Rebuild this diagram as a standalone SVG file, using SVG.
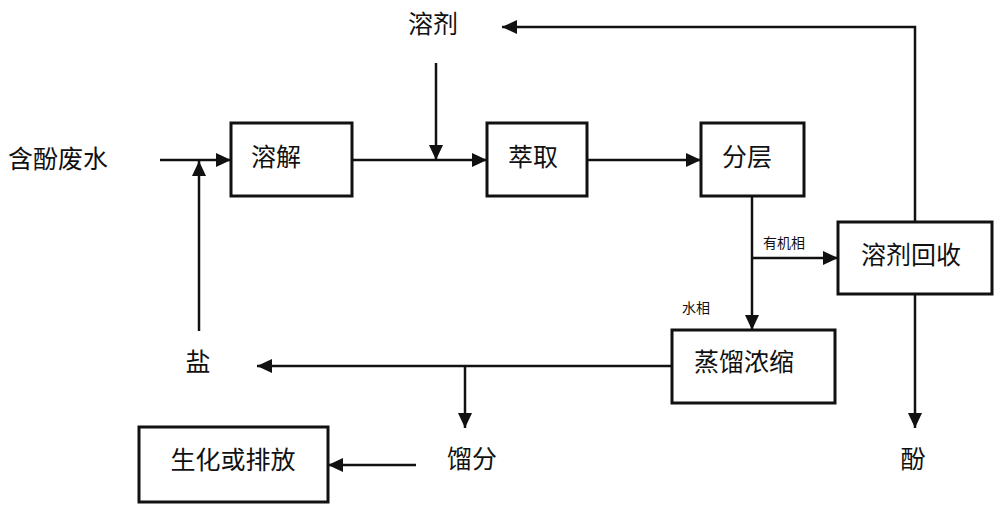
<svg xmlns="http://www.w3.org/2000/svg" width="1000" height="510" viewBox="0 0 1000 510">
<defs>
<marker id="ah" markerUnits="userSpaceOnUse" markerWidth="16" markerHeight="14" refX="15" refY="7" orient="auto">
<path d="M0,0 L15,7 L0,14 z" fill="#111"/>
</marker>
<style>
.box{fill:#fff;stroke:#111;stroke-width:3}
.t{font-family:"Noto Sans CJK SC","Noto Sans",sans-serif;font-size:25px;fill:#111;dominant-baseline:central;text-anchor:middle}
.s{font-family:"Noto Sans CJK SC","Noto Sans",sans-serif;font-size:14px;fill:#111;dominant-baseline:central;text-anchor:middle}
.c{fill:none;stroke:#111;stroke-width:2.5}
.a{marker-end:url(#ah)}
</style>
</defs>
<rect width="1000" height="510" fill="#fff"/>
<g id="connectors">
<line class="c a" x1="160" y1="160" x2="231" y2="160"/>
<line class="c a" x1="199" y1="331" x2="199" y2="161"/>
<line class="c a" x1="352" y1="160" x2="487" y2="160"/>
<line class="c a" x1="436" y1="63" x2="436" y2="160"/>
<line class="c a" x1="587" y1="160" x2="701" y2="160"/>
<line class="c a" x1="752" y1="196" x2="752" y2="330"/>
<line class="c a" x1="752" y1="258" x2="838" y2="258"/>
<polyline class="c a" points="915,222 915,27 502,27"/>
<line class="c a" x1="915" y1="294" x2="915" y2="428"/>
<line class="c a" x1="672" y1="366" x2="257" y2="366"/>
<line class="c a" x1="465" y1="366" x2="465" y2="428"/>
<line class="c a" x1="416" y1="465" x2="328" y2="465"/>
</g>
<g id="n_feed"><text class="t" x="58" y="157">含酚废水</text></g>
<g id="n_solvent"><text class="t" x="433" y="22">溶剂</text></g>
<g id="n_salt"><text class="t" x="198" y="360">盐</text></g>
<g id="n_dissolve"><rect class="box" x="231" y="123" width="121" height="73"/><text class="t" x="276" y="155">溶解</text></g>
<g id="n_extract"><rect class="box" x="487" y="123" width="100" height="73"/><text class="t" x="533" y="155">萃取</text></g>
<g id="n_layer"><rect class="box" x="701" y="123" width="103" height="73"/><text class="t" x="747" y="155">分层</text></g>
<g id="n_recover"><rect class="box" x="838" y="222" width="154" height="72"/><text class="t" x="911" y="253">溶剂回收</text></g>
<g id="n_distill"><rect class="box" x="672" y="330" width="163" height="73"/><text class="t" x="744" y="360">蒸馏浓缩</text></g>
<g id="n_bio"><rect class="box" x="139" y="427" width="189" height="75"/><text class="t" x="233" y="458">生化或排放</text></g>
<g id="n_phenol"><text class="t" x="913" y="457">酚</text></g>
<g id="n_fraction"><text class="t" x="472" y="457">馏分</text></g>
<g id="l_org"><text class="s" x="784" y="242">有机相</text></g>
<g id="l_aq"><text class="s" x="696" y="307">水相</text></g>
</svg>
